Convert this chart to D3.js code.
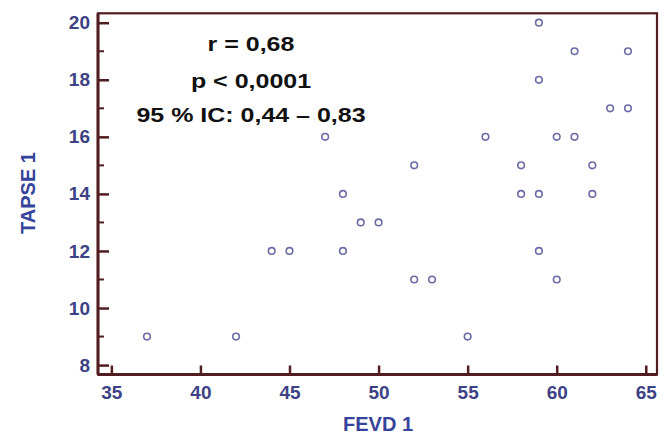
<!DOCTYPE html>
<html>
<head>
<meta charset="utf-8">
<script src="https://cdn.jsdelivr.net/npm/d3@7"></script>
<style>
  body { margin: 0; background: #fff; }
  svg { display: block; }
</style>
</head>
<body>
<script>
// data (FEVD 1 vs TAPSE 1)
var fevd = [37, 42, 44, 45, 47, 48, 48, 49, 50, 52, 52, 53, 55, 56, 58, 58, 59, 59, 59, 59, 60, 60, 61, 61, 62, 62, 63, 64, 64];
var tapse = [9, 9, 12, 12, 16, 14, 12, 13, 13, 15, 11, 11, 9, 16, 15, 14, 20, 18, 14, 12, 16, 11, 19, 16, 15, 14, 17, 19, 17];
var xTicks = [35, 40, 45, 50, 55, 60, 65];
var yTicks = [8, 10, 12, 14, 16, 18, 20];
var yMinor = [9, 11, 13, 15, 17, 19];
var statLines = ["r = 0,68", "p < 0,0001", "95 % IC: 0,44 \u2013 0,83"];
var xTitle = "FEVD 1", yTitle = "TAPSE 1";

var width = 668, height = 437;
var frame = {left: 98, right: 657, top: 13.3, bottom: 374.5};

var svg = d3.select("body").append("svg")
  .attr("width", width)
  .attr("height", height);

var x = d3.scaleLinear().domain([34.25, 65.63]).range([frame.left, frame.right]);
var y = d3.scaleLinear().domain([7.67, 20.33]).range([frame.bottom, frame.top]);

var axisColor = "#521d20", labelColor = "#3d4185";

// frame (top and right borders)
svg.append("rect")
  .attr("x", frame.left).attr("y", frame.top)
  .attr("width", frame.right - frame.left)
  .attr("height", frame.bottom - frame.top)
  .attr("fill", "none")
  .attr("stroke", axisColor)
  .attr("stroke-width", 2.2);

// minor y ticks
svg.append("g").selectAll("line").data(yMinor).join("line")
  .attr("x1", frame.left).attr("x2", frame.left + 6)
  .attr("y1", function(d) { return y(d); })
  .attr("y2", function(d) { return y(d); })
  .attr("stroke", axisColor).attr("stroke-width", 2);

var yAxis = svg.append("g")
  .attr("transform", "translate(" + frame.left + ",0)")
  .call(d3.axisLeft(y).tickValues(yTicks).tickSize(-11).tickSizeOuter(0).tickPadding(8));

var xAxis = svg.append("g")
  .attr("transform", "translate(0," + frame.bottom + ")")
  .call(d3.axisBottom(x).tickValues(xTicks).tickSize(-9).tickSizeOuter(0).tickPadding(11));

[xAxis, yAxis].forEach(function(g) {
  g.select(".domain").attr("stroke", axisColor).attr("stroke-width", 3);
  g.selectAll(".tick line").attr("stroke", axisColor).attr("stroke-width", 2.5);
  g.selectAll(".tick text")
    .attr("fill", labelColor)
    .style("font-family", "'Liberation Sans', Arial, sans-serif")
    .style("font-size", "19px")
    .style("font-weight", "bold");
});
// domain lines run over the full frame
yAxis.select(".domain").attr("d", "M0," + frame.top + "V" + frame.bottom);
xAxis.select(".domain").attr("d", "M" + frame.left + ",0H" + frame.right);

// points
svg.append("g").selectAll("circle").data(fevd).join("circle")
  .attr("cx", function(d) { return x(d); })
  .attr("cy", function(d, i) { return y(tapse[i]); })
  .attr("r", 3.3)
  .attr("fill", "none")
  .attr("stroke", "#6b6ba6")
  .attr("stroke-width", 1.6);

// stats
var stats = svg.append("g")
  .attr("transform", "translate(251,0) scale(1.25,1)");
stats.selectAll("text").data(statLines).join("text")
  .attr("x", 0)
  .attr("y", function(d, i) { return [51, 88, 122][i]; })
  .attr("text-anchor", "middle")
  .attr("fill", "#111")
  .style("font-family", "'Liberation Sans', Arial, sans-serif")
  .style("font-size", "20px")
  .style("font-weight", "bold")
  .text(function(d) { return d; });

// axis titles
svg.append("text")
  .attr("x", 378).attr("y", 431)
  .attr("text-anchor", "middle")
  .attr("fill", "#35439a")
  .style("font-family", "'Liberation Sans', Arial, sans-serif")
  .style("font-size", "20px")
  .style("font-weight", "bold")
  .text(xTitle);

svg.append("text")
  .attr("transform", "translate(35,193) rotate(-90)")
  .attr("text-anchor", "middle")
  .attr("fill", "#35439a")
  .style("font-family", "'Liberation Sans', Arial, sans-serif")
  .style("font-size", "20px")
  .style("font-weight", "bold")
  .text(yTitle);
</script>
</body>
</html>
